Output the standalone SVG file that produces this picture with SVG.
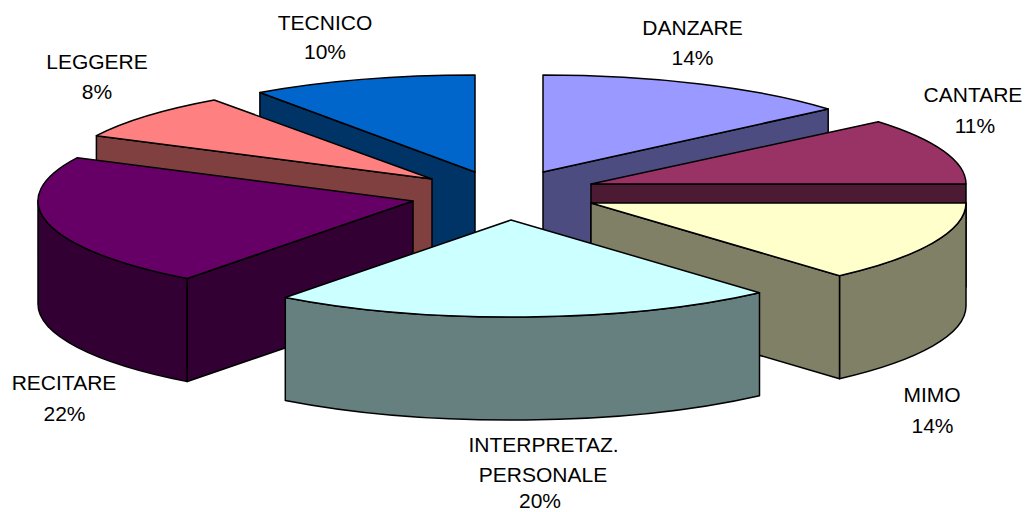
<svg xmlns="http://www.w3.org/2000/svg" width="1031" height="512" viewBox="0 0 1031 512">
<style>
.e{stroke:#000;stroke-width:1.5;stroke-linejoin:round}
text{font-family:"Liberation Sans",Arial,sans-serif;font-size:21px;fill:#000;text-anchor:middle}
</style>
<rect width="1031" height="512" fill="#fff"/>
<g id="tecnico">
<path class="e" fill="#003366" d="M259.9,92.5 L475,172 L475,275 L259.9,195.5 Z"/>
<path class="e" fill="#0066CC" d="M475,172 L259.9,92.5 A375,97 0 0 1 475,75 Z"/>
<text x="325" y="29.5">TECNICO</text><text x="325" y="58.5">10%</text>
</g>
<g id="danzare">
<path class="e" fill="#4C4C80" d="M543,172 L828.2,109 L828.2,212 L543,275 Z"/>
<path class="e" fill="#9999FF" d="M543,172 L543,75 A375,97 0 0 1 828.2,109 Z"/>
<text x="692.5" y="35">DANZARE</text><text x="692.5" y="65">14%</text>
</g>
<g id="leggere">
<path class="e" fill="#804040" d="M96.4,135.7 L432,179 L432,282 L96.4,238.7 Z"/>
<path class="e" fill="#FF8080" d="M432,179 L96.4,135.7 A375,97 0 0 1 214.2,100 Z"/>
<text x="97" y="69">LEGGERE</text><text x="97" y="99">8%</text>
</g>
<g id="cantare">
<path class="e" fill="#4D1A33" d="M591,184 L966,184 L966,287 L591,287 Z"/>
<path class="e" fill="#993366" d="M591,184 L878.3,121.7 A375,97 0 0 1 966,184 Z"/>
<text x="973" y="102">CANTARE</text><text x="975" y="132.5">11%</text>
</g>
<g id="recitare">
<path class="e" fill="#330033" d="M38,201 A375,97 0 0 0 187.3,278.5 L187.3,381.5 A375,97 0 0 1 38,304 Z"/>
<path class="e" fill="#330033" d="M187.3,278.5 L413,201 L413,304 L187.3,381.5 Z"/>
<path class="e" fill="#660066" d="M413,201 L187.3,278.5 A375,97 0 0 1 77.4,157.7 Z"/>
<text x="64" y="390">RECITARE</text><text x="64.5" y="420.5">22%</text>
</g>
<g id="mimo">
<path class="e" fill="#808066" d="M839.5,275.7 A375,97 0 0 0 966,203 L966,306 A375,97 0 0 1 839.5,378.7 Z"/>
<path class="e" fill="#808066" d="M591,203 L839.5,275.7 L839.5,378.7 L591,306 Z"/>
<path class="e" fill="#FFFFCC" d="M591,203 L966,203 A375,97 0 0 1 839.5,275.7 Z"/>
<text x="932" y="402">MIMO</text><text x="932.5" y="432.5">14%</text>
</g>
<g id="interpretaz">
<path class="e" fill="#668080" d="M285.3,297.5 A375,97 0 0 0 759.5,292.7 L759.5,395.7 A375,97 0 0 1 285.3,400.5 Z"/>
<path class="e" fill="#CCFFFF" d="M511,220 L759.5,292.7 A375,97 0 0 1 285.3,297.5 Z"/>
<text x="543.5" y="452">INTERPRETAZ.</text><text x="543" y="482">PERSONALE</text><text x="540" y="508">20%</text>
</g>
<g id="connectors"></g>
</svg>
